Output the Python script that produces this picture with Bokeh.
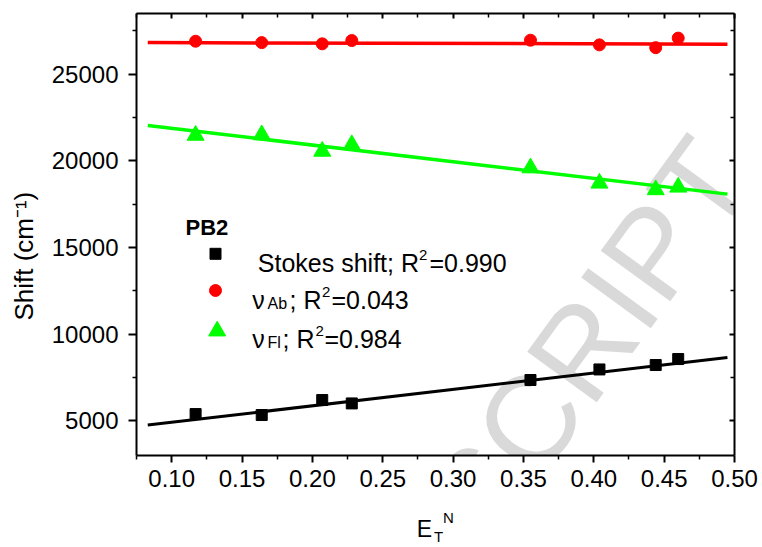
from bokeh.plotting import figure
from bokeh.models import Range1d, LinearAxis, FixedTicker, Label, NumeralTickFormatter
from bokeh.embed import file_html
from bokeh.resources import INLINE

# ---------------- data ----------------
et_n = [0.117, 0.164, 0.207, 0.228, 0.355, 0.404, 0.444, 0.460]
stokes_shift = [5390, 5335, 6200, 6005, 7355, 7965, 8220, 8565]
nu_ab = [26900, 26820, 26750, 26940, 26960, 26690, 26530, 27080]
nu_fl = [21470, 21500, 20550, 20930, 19590, 18710, 18330, 18480]

# linear fits (end points)
fit_x = [0.083, 0.495]
stokes_fit = [4760, 8655]
ab_fit = [26820, 26730]
fl_fit = [22035, 18080]

x_ticks = [0.10, 0.15, 0.20, 0.25, 0.30, 0.35, 0.40, 0.45, 0.50]
x_minor = [0.075, 0.125, 0.175, 0.225, 0.275, 0.325, 0.375, 0.425, 0.475]
y_ticks = [5000, 10000, 15000, 20000, 25000]
y_minor = [7500, 12500, 17500, 22500, 27500]

legend_labels = ["Stokes shift", "Ab", "Fl"]
r2_values = ["0.990", "0.043", "0.984"]
y_title = "Shift (cm\u207b\u00b9)"
x_title_parts = ["E", "T", "N"]

# ---------------- layout ----------------
W, H = 762, 547
FL, FT, FR, FB = 136, 13, 734, 455
FONT = "Liberation Sans"

p = figure(width=W, height=H,
           x_range=Range1d(0.075, 0.50), y_range=Range1d(3000, 28500),
           output_backend="svg", toolbar_location=None,
           min_border_left=FL, min_border_right=W - FR,
           min_border_top=FT, min_border_bottom=H - FB)
p.outline_line_color = None
p.xgrid.visible = False
p.ygrid.visible = False
p.background_fill_color = "white"
p.border_fill_color = "white"

# pixel-space ranges for placing legend keys and title pieces
p.extra_x_ranges = {"px": Range1d(FL, FR)}
p.extra_y_ranges = {"px": Range1d(FB, FT)}


def style_axis(ax, inside):
    ax.axis_line_width = 2
    ax.axis_line_color = "black"
    ax.major_tick_line_width = 2
    ax.minor_tick_line_width = 1.5
    ax.major_tick_line_color = "black"
    ax.minor_tick_line_color = "black"
    if inside:
        ax.major_tick_in = 5
        ax.major_tick_out = 0
        ax.minor_tick_in = 4
        ax.minor_tick_out = 0
        ax.major_label_text_font_size = "0px"
        ax.major_label_standoff = 0
    else:
        ax.major_tick_in = 0
        ax.major_tick_out = 7
        ax.minor_tick_in = 0
        ax.minor_tick_out = 4
        ax.major_label_text_font = FONT
        ax.major_label_text_font_size = "24px"
        ax.major_label_text_color = "black"


xax = p.xaxis[0]
xax.ticker = FixedTicker(ticks=x_ticks, minor_ticks=x_minor)
xax.formatter = NumeralTickFormatter(format="0.00")
style_axis(xax, False)
xax.major_label_standoff = 7

yax = p.yaxis[0]
yax.ticker = FixedTicker(ticks=y_ticks, minor_ticks=y_minor)
yax.formatter = NumeralTickFormatter(format="0")
style_axis(yax, False)
yax.major_tick_out = 8
yax.major_label_standoff = 10
yax.axis_label = y_title + "\u00a0" * 6
yax.axis_label_text_font = FONT
yax.axis_label_text_font_size = "26px"
yax.axis_label_text_font_style = "normal"
yax.axis_label_text_color = "black"
yax.axis_label_standoff = 10

top = LinearAxis(ticker=FixedTicker(ticks=x_ticks, minor_ticks=x_minor))
style_axis(top, True)
p.add_layout(top, "above")
right = LinearAxis(ticker=FixedTicker(ticks=y_ticks, minor_ticks=y_minor))
style_axis(right, True)
p.add_layout(right, "right")


def text_axis(pos, label, size, standoff):
    """A bare axis whose only content is one tick label at page-pixel x = pos."""
    ax = LinearAxis(x_range_name="px",
                    ticker=FixedTicker(ticks=[pos], minor_ticks=[]),
                    major_label_overrides={pos: label})
    ax.axis_line_color = None
    ax.major_tick_line_color = None
    ax.minor_tick_line_color = None
    ax.major_tick_in = 0
    ax.major_tick_out = 0
    ax.minor_tick_in = 0
    ax.minor_tick_out = 0
    ax.major_label_standoff = standoff
    ax.major_label_text_font = FONT
    ax.major_label_text_font_size = f"{size}px"
    ax.major_label_text_color = "black"
    p.add_layout(ax, "below")


# x title E_T^N, stacked below the main x axis
text_axis(448, x_title_parts[2], 15, 19)    # superscript N
text_axis(424, x_title_parts[0], 23, -13)   # E
text_axis(438, x_title_parts[1], 15, -17)   # subscript T


def lab(text, X, Y, size, bold=False, angle=0, color="black", level="annotation"):
    """Place a label at page pixel (X, Y) = baseline start."""
    p.add_layout(Label(x=X - FL, y=FB - Y, x_units="screen", y_units="screen", text=text,
                       text_font=FONT, text_font_size=f"{size}px",
                       text_font_style="bold" if bold else "normal",
                       text_color=color, text_align="left",
                       text_baseline="alphabetic", angle=angle, angle_units="deg",
                       level=level))


# ---------------- watermark ----------------
lab("USCRIPT", 400, 598, 125, angle=54, color="#d9d9d9", level="underlay")

# ---------------- fits and data ----------------
p.line(fit_x, ab_fit, line_color="#ff0000", line_width=3.5)
p.line(fit_x, fl_fit, line_color="#00ff00", line_width=3.5)
p.line(fit_x, stokes_fit, line_color="black", line_width=3)

p.scatter(et_n, stokes_shift, marker="square", size=11, fill_color="black", line_color="black")
p.scatter(et_n, nu_ab, marker="circle", size=12, fill_color="#ff0000", line_color="#ff0000")
p.scatter(et_n, nu_fl, marker="triangle", size=17, fill_color="#00ff00", line_color="#00ff00")

# ---------------- legend ----------------
p.scatter([215], [253.3], marker="square", size=11, fill_color="black", line_color="black",
          x_range_name="px", y_range_name="px")
p.scatter([215], [290], marker="circle", size=12, fill_color="#ff0000", line_color="#ff0000",
          x_range_name="px", y_range_name="px")
p.scatter([216.7], [330.5], marker="triangle", size=17, fill_color="#00ff00", line_color="#00ff00",
          x_range_name="px", y_range_name="px")

lab("PB2", 185, 226.7, 22, bold=True)

# row 1: Stokes shift
lab(f"{legend_labels[0]}; R", 257.3, 262.7, 25)
lab("2", 418.5, 254.5, 15)
lab(f"={r2_values[0]}", 429, 262.7, 25)

# row 2: nu_Ab
lab("\u03bd", 251.7, 299.3, 25)
lab(legend_labels[1], 267, 303, 16)
lab("; R", 289, 299.3, 25)
lab("2", 321.5, 291, 15)
lab(f"={r2_values[1]}", 331, 299.3, 25)

# row 3: nu_Fl
lab("\u03bd", 251.7, 338.3, 25)
lab(legend_labels[2], 267, 342, 16)
lab("; R", 282, 338.3, 25)
lab("2", 315, 330, 15)
lab(f"={r2_values[2]}", 324, 338.3, 25)

open("out.html", "w").write(file_html(p, INLINE))
